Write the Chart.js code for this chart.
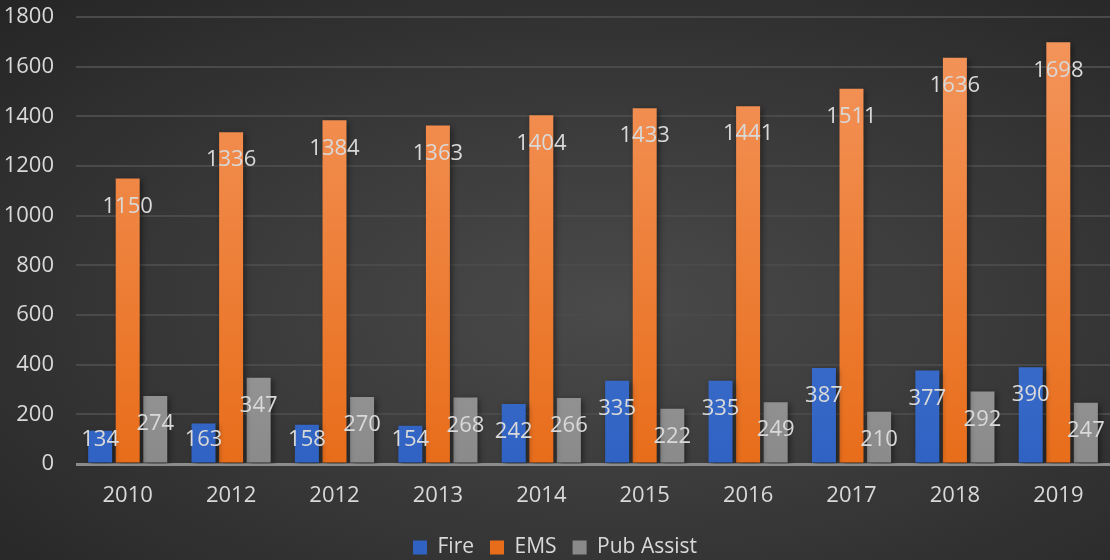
<!DOCTYPE html>
<html lang="en">
<head>
    <meta charset="UTF-8">
    <title>Calls by Year</title>
    <script src="https://cdn.jsdelivr.net/npm/chart.js"></script>
    <style>
        html, body {margin:0; padding:0;}
        body {width:1110px; height:560px; overflow:hidden; background:radial-gradient(ellipse at 55% 55%, #4a4a4a 0%, #3a3a3a 45%, #252525 100%);}
        canvas {display:block;}
    </style>
</head>
<body>
    <canvas id="callsChart" width="1110" height="560"></canvas>
    <script>
    const years = ['2010', '2012', '2012', '2013', '2014', '2015', '2016', '2017', '2018', '2019'];
    const fire = [134, 163, 158, 154, 242, 335, 335, 387, 377, 390];
    const ems = [1150, 1336, 1384, 1363, 1404, 1433, 1441, 1511, 1636, 1698];
    const pubAssist = [274, 347, 270, 268, 266, 222, 249, 210, 292, 247];
    const yTicks = [0, 200, 400, 600, 800, 1000, 1200, 1400, 1600, 1800];

    const FONT = "'Open Sans', 'Noto Sans', sans-serif";
    const TEXT = '#d9d9d9';

    function barGradient(top, bottom) {
        return ctx => {
            const area = ctx.chart.chartArea;
            if (!area) return bottom;
            const g = ctx.chart.ctx.createLinearGradient(0, area.top, 0, area.bottom);
            g.addColorStop(0, top);
            g.addColorStop(1, bottom);
            return g;
        };
    }

    // labels near the top of each bar, kept above the axis
    const valueLabels = {
        id: 'valueLabels',
        afterDatasetsDraw(chart) {
            const ctx = chart.ctx;
            ctx.save();
            ctx.font = '22px ' + FONT;
            ctx.fillStyle = TEXT;
            ctx.textAlign = 'center';
            ctx.textBaseline = 'middle';
            const limit = chart.chartArea.bottom - 24;
            chart.data.datasets.forEach((ds, i) => {
                chart.getDatasetMeta(i).data.forEach((bar, j) => {
                    const y = Math.min(bar.y + 28, limit);
                    ctx.fillText(ds.data[j], bar.x, y);
                });
            });
            ctx.restore();
        }
    };

    const barShadow = {
        id: 'barShadow',
        beforeDatasetsDraw(chart) {
            const ctx = chart.ctx;
            ctx.save();
            ctx.shadowColor = 'rgba(0,0,0,0.45)';
            ctx.shadowBlur = 6;
            ctx.shadowOffsetX = 2;
            ctx.shadowOffsetY = 2;
        },
        afterDatasetsDraw(chart) {
            chart.ctx.restore();
        }
    };

    new Chart(document.getElementById('callsChart'), {
        type: 'bar',
        data: {
            labels: years,
            datasets: [
                {label: 'Fire', data: fire, backgroundColor: barGradient('#5585e0', '#2f62c2')},
                {label: 'EMS', data: ems, backgroundColor: barGradient('#f4965e', '#e86d1a')},
                {label: 'Pub Assist', data: pubAssist, backgroundColor: barGradient('#b8b8b8', '#8a8a8a')}
            ]
        },
        options: {
            responsive: false,
            animation: false,
            devicePixelRatio: 1,
            layout: {padding: {top: 17, right: 0, left: 0, bottom: -8}},
            datasets: {bar: {categoryPercentage: 0.8, barPercentage: 0.87}},
            plugins: {
                legend: {
                    position: 'bottom',
                    labels: {color: TEXT, font: {family: FONT, size: 21}, boxWidth: 14, boxHeight: 14, padding: 16}
                },
                tooltip: {enabled: false}
            },
            scales: {
                x: {
                    grid: {display: false},
                    border: {display: false},
                    afterFit: s => { s.height = 57; s.paddingLeft = 0; s.paddingRight = 0; },
                    ticks: {color: TEXT, font: {family: FONT, size: 22}, padding: 11, autoSkip: false, maxRotation: 0}
                },
                y: {
                    min: 0, max: 1800,
                    afterBuildTicks: s => { s.ticks = yTicks.map(v => ({value: v})); },
                    afterFit: s => { s.width = 76; s.paddingTop = 0; s.paddingBottom = 0; },
                    border: {display: false},
                    grid: {
                        color: c => c.tick.value === 0 ? '#8c8c8c' : '#4a4a4a',
                        lineWidth: c => c.tick.value === 0 ? 3 : 2,
                        drawTicks: false
                    },
                    ticks: {color: TEXT, font: {family: FONT, size: 22}, padding: 22, callback: v => String(v)}
                }
            }
        },
        plugins: [barShadow, valueLabels]
    });
    </script>
</body>
</html>
